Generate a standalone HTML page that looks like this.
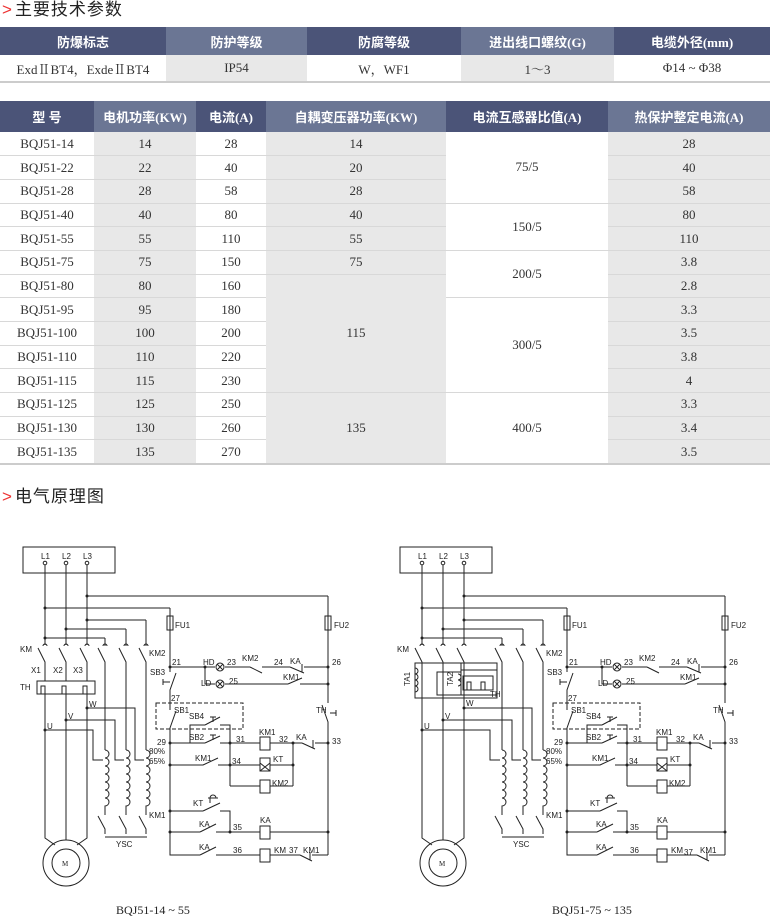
<!DOCTYPE html>
<html><head><meta charset="utf-8">
<style>
*{margin:0;padding:0;box-sizing:border-box}
body{width:770px;height:916px;background:#fff;position:relative;overflow:hidden;font-family:"Liberation Serif","Noto Serif CJK SC",serif;color:#333}
.title{position:absolute;left:2px;font-family:"Liberation Sans","Noto Sans CJK SC",sans-serif;font-size:17px;color:#222;letter-spacing:1px;line-height:20px}
.title b{color:#e33;font-weight:normal;margin-right:2px}
table{position:absolute;left:0;width:770px;border-collapse:collapse;table-layout:fixed}
th{color:#fff;font-family:"Liberation Serif","Noto Sans CJK SC",serif;font-size:13px;font-weight:bold;text-align:center}
th.d{background:#4b5478}th.l{background:#6b7694}
td{text-align:center;font-size:13px;border-bottom:1px solid #d8d8d8;padding:0}
td.g{background:#e8e8e8}
svg{position:absolute;left:0;top:0}
svg text{font-family:"Liberation Sans",sans-serif;font-size:8px;fill:#222}
</style></head><body>
<div class="title" style="top:0"><b>&gt;</b>主要技术参数</div>
<table style="top:27px">
<colgroup><col style="width:166px"><col style="width:141px"><col style="width:154px"><col style="width:153px"><col style="width:156px"></colgroup>
<tr style="height:28px"><th class="d">防爆标志</th><th class="l">防护等级</th><th class="d">防腐等级</th><th class="l">进出线口螺纹(G)</th><th class="d">电缆外径(mm)</th></tr>
<tr style="height:27px"><td style="border-bottom:2px solid #ccc">ExdⅡBT4，ExdeⅡBT4</td><td class="g" style="border-bottom:2px solid #ccc">IP54</td><td style="border-bottom:2px solid #ccc">W，WF1</td><td class="g" style="border-bottom:2px solid #ccc">1～3</td><td style="border-bottom:2px solid #ccc">Φ14 ~ Φ38</td></tr>
</table>
<table style="top:101px">
<colgroup><col style="width:94px"><col style="width:102px"><col style="width:70px"><col style="width:180px"><col style="width:162px"><col style="width:162px"></colgroup>
<tr style="height:31px"><th class="d">型 号</th><th class="l">电机功率(KW)</th><th class="d">电流(A)</th><th class="l">自耦变压器功率(KW)</th><th class="d">电流互感器比值(A)</th><th class="l">热保护整定电流(A)</th></tr>
<tr style="height:23.7px"><td>BQJ51-14</td><td class="g">14</td><td>28</td><td class="g">14</td><td rowspan="3">75/5</td><td class="g">28</td></tr>
<tr style="height:23.7px"><td>BQJ51-22</td><td class="g">22</td><td>40</td><td class="g">20</td><td class="g">40</td></tr>
<tr style="height:23.7px"><td>BQJ51-28</td><td class="g">28</td><td>58</td><td class="g">28</td><td class="g">58</td></tr>
<tr style="height:23.7px"><td>BQJ51-40</td><td class="g">40</td><td>80</td><td class="g">40</td><td rowspan="2">150/5</td><td class="g">80</td></tr>
<tr style="height:23.7px"><td>BQJ51-55</td><td class="g">55</td><td>110</td><td class="g">55</td><td class="g">110</td></tr>
<tr style="height:23.7px"><td>BQJ51-75</td><td class="g">75</td><td>150</td><td class="g">75</td><td rowspan="2">200/5</td><td class="g">3.8</td></tr>
<tr style="height:23.7px"><td>BQJ51-80</td><td class="g">80</td><td>160</td><td class="g" rowspan="5">115</td><td class="g">2.8</td></tr>
<tr style="height:23.7px"><td>BQJ51-95</td><td class="g">95</td><td>180</td><td rowspan="4">300/5</td><td class="g">3.3</td></tr>
<tr style="height:23.7px"><td>BQJ51-100</td><td class="g">100</td><td>200</td><td class="g">3.5</td></tr>
<tr style="height:23.7px"><td>BQJ51-110</td><td class="g">110</td><td>220</td><td class="g">3.8</td></tr>
<tr style="height:23.7px"><td>BQJ51-115</td><td class="g">115</td><td>230</td><td class="g">4</td></tr>
<tr style="height:23.7px"><td>BQJ51-125</td><td class="g">125</td><td>250</td><td class="g" rowspan="3" style="border-bottom:2px solid #ccc">135</td><td rowspan="3" style="border-bottom:2px solid #ccc">400/5</td><td class="g">3.3</td></tr>
<tr style="height:23.7px"><td>BQJ51-130</td><td class="g">130</td><td>260</td><td class="g">3.4</td></tr>
<tr style="height:23.7px"><td style="border-bottom:2px solid #ccc">BQJ51-135</td><td class="g" style="border-bottom:2px solid #ccc">135</td><td style="border-bottom:2px solid #ccc">270</td><td class="g" style="border-bottom:2px solid #ccc">3.5</td></tr>
</table>
<div class="title" style="top:487px"><b>&gt;</b>电气原理图</div>

<svg width="770" height="916" viewBox="0 0 770 916">
<g fill="none" stroke="#222" stroke-width="1">
<rect x="23" y="547" width="92" height="26"/>
<circle cx="45" cy="563" r="1.8"/><circle cx="66" cy="563" r="1.8"/><circle cx="87" cy="563" r="1.8"/>
<path d="M45 565V645M43 646a2 2 0 0 1 4 0M38 648L45 662V681M66 565V645M64 646a2 2 0 0 1 4 0M59 648L66 662V681M87 565V645M85 646a2 2 0 0 1 4 0M80 648L87 662V681"/>
<rect x="37" y="681" width="58" height="13"/>
<path d="M41 694v-8h4v8M62 694v-8h4v8M83 694v-8h4v8"/>
<path d="M45 694V838L55 845M66 694V840M87 694V838L77 845"/>
<circle cx="66" cy="863" r="23"/><circle cx="66" cy="863" r="14"/>
<path d="M87 596H328M45 608H170M87 620H146M66 629H126M45 638H105M45 730H93V760H103M66 720H115V760H124M87 708H135V760H144"/>
<g>
<path d="M105 638V646M103 646a2 2 0 0 1 4 0M98 648L105 662V750M126 629V646M124 646a2 2 0 0 1 4 0M119 648L126 662V750M146 620V646M144 646a2 2 0 0 1 4 0M139 648L146 662V750"/>
<path d="M105 750a4 4 0 0 1 0 8a4 4 0 0 1 0 8a4 4 0 0 1 0 8a4 4 0 0 1 0 8a4 4 0 0 1 0 8a4 4 0 0 1 0 8a4 4 0 0 1 0 8V815M126 750a4 4 0 0 1 0 8a4 4 0 0 1 0 8a4 4 0 0 1 0 8a4 4 0 0 1 0 8a4 4 0 0 1 0 8a4 4 0 0 1 0 8a4 4 0 0 1 0 8V815M146 750a4 4 0 0 1 0 8a4 4 0 0 1 0 8a4 4 0 0 1 0 8a4 4 0 0 1 0 8a4 4 0 0 1 0 8a4 4 0 0 1 0 8a4 4 0 0 1 0 8V815"/>
<path d="M98 816L105 829V834M119 816L126 829V834M139 816L146 829V834M105 837H147"/>
<rect x="167" y="616" width="6" height="14"/><rect x="325" y="616" width="6" height="14"/>
<path d="M170 608V672M176 673L170 690V710M163 679V685M163 682H170M176 711L170 728V855H200M216 855H260M270 855H300M312 855H328M328 596V703M322 705L328 722V855"/>
<path d="M336 710V716M336 713H330"/>
<path d="M170 667H215M225 667H250M250 667L262 673M262 667H290M290 667L304 673M302 664V672M304 667H328M205 667V684H215M225 684H288M288 684L302 678M300 684H328"/>
<circle cx="220" cy="667" r="4"/><circle cx="220" cy="684" r="4"/>
<path d="M217 664l6 6M223 664l-6 6M217 681l6 6M223 681l-6 6"/>
<rect x="156" y="703" width="87" height="26" stroke-dasharray="4 2"/>
<path d="M190 743V725H205M205 725L220 717M220 725H230V786M170 743H205M205 743L220 736M220 743H260M270 743H293V786M293 743H302M302 743L315 749M313 740V748M315 743H328"/>
<path d="M210 717h6M213 717v5M210 735h6M213 735v5"/>
<rect x="260" y="737" width="10" height="13"/>
<path d="M170 765H203M203 765L218 758M218 765H260M270 765H293"/>
<rect x="260" y="758" width="10" height="13"/><path d="M260 771l10-8M260 763l10 8"/>
<path d="M230 786H260M270 786H293"/><rect x="260" y="780" width="10" height="13"/>
<path d="M170 811H203M203 811L220 803M220 811H230V832M170 832H200M200 832L216 824M216 832H260M270 832H328"/>
<path d="M210 803v-5a3 3 0 0 1 6 0M208 798h10"/>
<rect x="260" y="826" width="10" height="13"/>
<path d="M200 855L216 847"/><rect x="260" y="849" width="10" height="13"/>
<path d="M300 855L312 861M310 852v8"/>
</g>
<g transform="translate(377 0)">
<rect x="23" y="547" width="92" height="26"/>
<circle cx="45" cy="563" r="1.8"/><circle cx="66" cy="563" r="1.8"/><circle cx="87" cy="563" r="1.8"/>
<path d="M45 565V645M43 646a2 2 0 0 1 4 0M38 648L45 662V838L55 845M66 565V645M64 646a2 2 0 0 1 4 0M59 648L66 662V840M87 565V645M85 646a2 2 0 0 1 4 0M80 648L87 662V838L77 845"/>
<circle cx="66" cy="863" r="23"/><circle cx="66" cy="863" r="14"/>
<path d="M38 663H120V698H38ZM38 668a3 3 0 0 1 0 6a3 3 0 0 1 0 6a3 3 0 0 1 0 6a3 3 0 0 1 0 6"/>
<path d="M84 663V670M84 670H120V695H84ZM84 672H60V695H84"/>
<path d="M81 674a3 3 0 0 1 0 6a3 3 0 0 1 0 6"/>
<rect x="86" y="676" width="30" height="14"/>
<path d="M90 690v-8h4v8M104 690v-8h4v8"/>
</g>
<path d="M464 596H725M422 608H567M464 620H543M443 629H523M422 638H502M422 730H490V760H500M443 720H512V760H521M464 708H532V760H541"/>
<g transform="translate(397 0)">
<path d="M105 638V646M103 646a2 2 0 0 1 4 0M98 648L105 662V750M126 629V646M124 646a2 2 0 0 1 4 0M119 648L126 662V750M146 620V646M144 646a2 2 0 0 1 4 0M139 648L146 662V750"/>
<path d="M105 750a4 4 0 0 1 0 8a4 4 0 0 1 0 8a4 4 0 0 1 0 8a4 4 0 0 1 0 8a4 4 0 0 1 0 8a4 4 0 0 1 0 8a4 4 0 0 1 0 8V815M126 750a4 4 0 0 1 0 8a4 4 0 0 1 0 8a4 4 0 0 1 0 8a4 4 0 0 1 0 8a4 4 0 0 1 0 8a4 4 0 0 1 0 8a4 4 0 0 1 0 8V815M146 750a4 4 0 0 1 0 8a4 4 0 0 1 0 8a4 4 0 0 1 0 8a4 4 0 0 1 0 8a4 4 0 0 1 0 8a4 4 0 0 1 0 8a4 4 0 0 1 0 8V815"/>
<path d="M98 816L105 829V834M119 816L126 829V834M139 816L146 829V834M105 837H147"/>
<rect x="167" y="616" width="6" height="14"/><rect x="325" y="616" width="6" height="14"/>
<path d="M170 608V672M176 673L170 690V710M163 679V685M163 682H170M176 711L170 728V855H200M216 855H260M270 855H300M312 855H328M328 596V703M322 705L328 722V855"/>
<path d="M336 710V716M336 713H330"/>
<path d="M170 667H215M225 667H250M250 667L262 673M262 667H290M290 667L304 673M302 664V672M304 667H328M205 667V684H215M225 684H288M288 684L302 678M300 684H328"/>
<circle cx="220" cy="667" r="4"/><circle cx="220" cy="684" r="4"/>
<path d="M217 664l6 6M223 664l-6 6M217 681l6 6M223 681l-6 6"/>
<rect x="156" y="703" width="87" height="26" stroke-dasharray="4 2"/>
<path d="M190 743V725H205M205 725L220 717M220 725H230V786M170 743H205M205 743L220 736M220 743H260M270 743H293V786M293 743H302M302 743L315 749M313 740V748M315 743H328"/>
<path d="M210 717h6M213 717v5M210 735h6M213 735v5"/>
<rect x="260" y="737" width="10" height="13"/>
<path d="M170 765H203M203 765L218 758M218 765H260M270 765H293"/>
<rect x="260" y="758" width="10" height="13"/><path d="M260 771l10-8M260 763l10 8"/>
<path d="M230 786H260M270 786H293"/><rect x="260" y="780" width="10" height="13"/>
<path d="M170 811H203M203 811L220 803M220 811H230V832M170 832H200M200 832L216 824M216 832H260M270 832H328"/>
<path d="M210 803v-5a3 3 0 0 1 6 0M208 798h10"/>
<rect x="260" y="826" width="10" height="13"/>
<path d="M200 855L216 847"/><rect x="260" y="849" width="10" height="13"/>
<path d="M300 855L312 861M310 852v8"/>
</g>
</g>
<g fill="#222">
<circle cx="45" cy="608" r="1.5"/><circle cx="45" cy="638" r="1.5"/><circle cx="66" cy="629" r="1.5"/><circle cx="87" cy="596" r="1.5"/><circle cx="87" cy="620" r="1.5"/><circle cx="45" cy="730" r="1.5"/><circle cx="66" cy="720" r="1.5"/><circle cx="87" cy="708" r="1.5"/>
<circle cx="170" cy="667" r="1.5"/><circle cx="205" cy="667" r="1.5"/><circle cx="328" cy="667" r="1.5"/><circle cx="328" cy="684" r="1.5"/><circle cx="170" cy="743" r="1.5"/><circle cx="230" cy="743" r="1.5"/><circle cx="293" cy="743" r="1.5"/><circle cx="328" cy="743" r="1.5"/><circle cx="170" cy="765" r="1.5"/><circle cx="230" cy="765" r="1.5"/><circle cx="293" cy="765" r="1.5"/><circle cx="170" cy="811" r="1.5"/><circle cx="170" cy="832" r="1.5"/><circle cx="230" cy="832" r="1.5"/><circle cx="328" cy="832" r="1.5"/>
<circle cx="422" cy="608" r="1.5"/><circle cx="422" cy="638" r="1.5"/><circle cx="443" cy="629" r="1.5"/><circle cx="464" cy="596" r="1.5"/><circle cx="464" cy="620" r="1.5"/><circle cx="422" cy="730" r="1.5"/><circle cx="443" cy="720" r="1.5"/><circle cx="464" cy="708" r="1.5"/>
<circle cx="567" cy="667" r="1.5"/><circle cx="602" cy="667" r="1.5"/><circle cx="725" cy="667" r="1.5"/><circle cx="725" cy="684" r="1.5"/><circle cx="567" cy="743" r="1.5"/><circle cx="627" cy="743" r="1.5"/><circle cx="690" cy="743" r="1.5"/><circle cx="725" cy="743" r="1.5"/><circle cx="567" cy="765" r="1.5"/><circle cx="627" cy="765" r="1.5"/><circle cx="690" cy="765" r="1.5"/><circle cx="567" cy="811" r="1.5"/><circle cx="567" cy="832" r="1.5"/><circle cx="627" cy="832" r="1.5"/><circle cx="725" cy="832" r="1.5"/>
</g>
<text x="41" y="559">L1</text><text x="62" y="559">L2</text><text x="83" y="559">L3</text>
<text x="20" y="652">KM</text><text x="31" y="673">X1</text><text x="53" y="673">X2</text><text x="73" y="673">X3</text><text x="20" y="690">TH</text>
<text x="89" y="707">W</text><text x="68" y="719">V</text><text x="47" y="729">U</text>
<text x="149" y="656">KM2</text><text x="149" y="754">80%</text><text x="149" y="764">65%</text><text x="149" y="818">KM1</text><text x="116" y="847">YSC</text>
<text x="62" y="866" style="font-family:'Liberation Serif',serif;font-size:7px">M</text>
<text x="175" y="628">FU1</text><text x="334" y="628">FU2</text>
<text x="172" y="665">21</text><text x="203" y="665">HD</text><text x="227" y="665">23</text><text x="242" y="661">KM2</text><text x="274" y="665">24</text><text x="290" y="664">KA</text><text x="332" y="665">26</text>
<text x="201" y="686">LD</text><text x="229" y="684">25</text><text x="283" y="680">KM1</text>
<text x="150" y="675">SB3</text><text x="171" y="701">27</text><text x="174" y="713">SB1</text><text x="189" y="719">SB4</text><text x="189" y="740">SB2</text>
<text x="316" y="713">TH</text>
<text x="157" y="745">29</text><text x="236" y="742">31</text><text x="259" y="735">KM1</text><text x="279" y="742">32</text><text x="296" y="740">KA</text><text x="332" y="744">33</text>
<text x="195" y="761">KM1</text><text x="232" y="764">34</text><text x="273" y="762">KT</text><text x="272" y="786">KM2</text>
<text x="193" y="806">KT</text><text x="199" y="827">KA</text><text x="233" y="830">35</text><text x="260" y="823">KA</text>
<text x="199" y="850">KA</text><text x="233" y="853">36</text><text x="274" y="853">KM</text><text x="289" y="853">37</text><text x="303" y="853">KM1</text>
<text x="418" y="559">L1</text><text x="439" y="559">L2</text><text x="460" y="559">L3</text>
<text x="397" y="652">KM</text>
<text x="410" y="686" transform="rotate(-90 410 686)">TA1</text><text x="453" y="686" transform="rotate(-90 453 686)">TA2</text><text x="490" y="697">TH</text>
<text x="466" y="706">W</text><text x="445" y="719">V</text><text x="424" y="729">U</text>
<text x="546" y="656">KM2</text><text x="546" y="754">80%</text><text x="546" y="764">65%</text><text x="546" y="818">KM1</text><text x="513" y="847">YSC</text>
<text x="439" y="866" style="font-family:'Liberation Serif',serif;font-size:7px">M</text>
<text x="572" y="628">FU1</text><text x="731" y="628">FU2</text>
<text x="569" y="665">21</text><text x="600" y="665">HD</text><text x="624" y="665">23</text><text x="639" y="661">KM2</text><text x="671" y="665">24</text><text x="687" y="664">KA</text><text x="729" y="665">26</text>
<text x="598" y="686">LD</text><text x="626" y="684">25</text><text x="680" y="680">KM1</text>
<text x="547" y="675">SB3</text><text x="568" y="701">27</text><text x="571" y="713">SB1</text><text x="586" y="719">SB4</text><text x="586" y="740">SB2</text>
<text x="713" y="713">TH</text>
<text x="554" y="745">29</text><text x="633" y="742">31</text><text x="656" y="735">KM1</text><text x="676" y="742">32</text><text x="693" y="740">KA</text><text x="729" y="744">33</text>
<text x="592" y="761">KM1</text><text x="629" y="764">34</text><text x="670" y="762">KT</text><text x="669" y="786">KM2</text>
<text x="590" y="806">KT</text><text x="596" y="827">KA</text><text x="630" y="830">35</text><text x="657" y="823">KA</text>
<text x="596" y="850">KA</text><text x="630" y="853">36</text><text x="671" y="853">KM</text><text x="684" y="855">37</text><text x="700" y="853">KM1</text>
<text x="116" y="914" style="font-family:'Liberation Serif',serif;font-size:12px">BQJ51-14 ~ 55</text>
<text x="552" y="914" style="font-family:'Liberation Serif',serif;font-size:12px">BQJ51-75 ~ 135</text>
</svg>
</body></html>
